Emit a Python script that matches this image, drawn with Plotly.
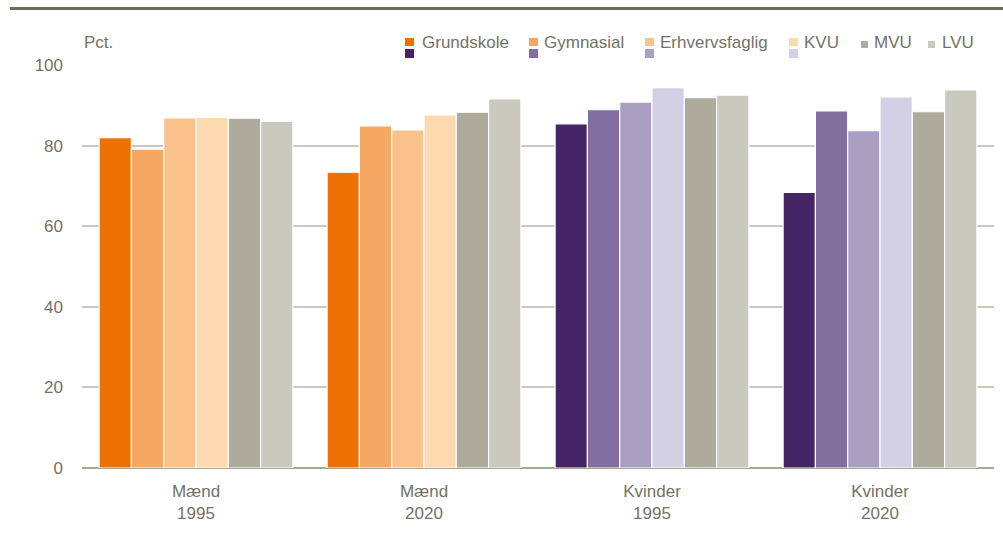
import plotly.graph_objects as go

# data
groups = ["Mænd<br>1995", "Mænd<br>2020", "Kvinder<br>1995", "Kvinder<br>2020"]
educations = ["Grundskole", "Gymnasial", "Erhvervsfaglig", "KVU", "MVU", "LVU"]
grundskole = [82.0, 73.4, 85.4, 68.4]
gymnasial = [79.1, 84.9, 88.9, 88.6]
erhvervsfaglig = [86.9, 83.9, 90.8, 83.7]
kvu = [87.0, 87.6, 94.4, 92.1]
mvu = [86.8, 88.3, 91.9, 88.4]
lvu = [86.0, 91.6, 92.5, 93.8]
values = [grundskole, gymnasial, erhvervsfaglig, kvu, mvu, lvu]

men_colors = ["#EE7203", "#F6A862", "#F9C28B", "#FCD9AE", "#ADAB9C", "#C9C9BE"]
women_colors = ["#452466", "#826F9F", "#AA9FC3", "#D3CFE4", "#ADAB9C", "#C9C9BE"]

TXT = "#727266"
FONT = "Liberation Sans Narrow, Arial Narrow, Liberation Sans, Arial, sans-serif"
FS = 17

# plot area in pixels
W, H = 1003, 533
L, R, T, B = 82, 994, 65, 468


def px(x):
    return (x - L) / (R - L)


def py(y):
    return (B - y) / (B - T)


fig = go.Figure()
for i, name in enumerate(educations):
    fig.add_trace(go.Bar(
        name=name,
        x=groups,
        y=values[i],
        marker=dict(color=[men_colors[i], men_colors[i], women_colors[i], women_colors[i]],
                    line=dict(color="white", width=1.2)),
        showlegend=False,
    ))

shapes = [
    # dark rule at the top
    dict(type="line", xref="paper", yref="paper", x0=px(10), x1=px(1003), y0=py(8.5), y1=py(8.5),
         line=dict(color="#6E6B5A", width=3)),
]
annotations = [
    dict(text="Pct.", xref="paper", yref="paper", x=px(82), y=py(43), xanchor="left", yanchor="middle",
         showarrow=False, font=dict(size=FS, color=TXT, family=FONT)),
]

# hand-drawn legend (two-tone squares for the first four)
leg_x = [405, 529, 645, 789, 861, 928]
txt_x = [420, 542, 658, 802, 872, 940]
for i, name in enumerate(educations):
    x0 = leg_x[i]
    if i < 4:
        shapes.append(dict(type="rect", xref="paper", yref="paper", x0=px(x0), x1=px(x0 + 9),
                           y0=py(46), y1=py(38), fillcolor=men_colors[i], line=dict(width=0)))
        shapes.append(dict(type="rect", xref="paper", yref="paper", x0=px(x0), x1=px(x0 + 9),
                           y0=py(58), y1=py(49), fillcolor=women_colors[i], line=dict(width=0)))
    else:
        shapes.append(dict(type="rect", xref="paper", yref="paper", x0=px(x0), x1=px(x0 + 7),
                           y0=py(48), y1=py(41), fillcolor=men_colors[i], line=dict(width=0)))
    annotations.append(dict(text=name, xref="paper", yref="paper", x=px(txt_x[i]), y=py(43),
                            xanchor="left", yanchor="middle", showarrow=False,
                            font=dict(size=FS, color=TXT, family=FONT)))

fig.update_layout(
    width=W, height=H,
    margin=dict(l=L, r=W - R, t=T, b=H - B),
    paper_bgcolor="white", plot_bgcolor="white",
    barmode="group", bargap=0.15, bargroupgap=0,
    font=dict(family=FONT, size=FS, color=TXT),
    xaxis=dict(showgrid=False, showline=False, ticks="", ticklabelstandoff=11,
               tickfont=dict(size=FS, color=TXT)),
    yaxis=dict(range=[0, 100], tickvals=[0, 20, 40, 60, 80, 100], showgrid=True,
               gridcolor="#CBC9BF", gridwidth=2, zeroline=True, zerolinecolor="#A8A794",
               zerolinewidth=2, showline=False, ticks="", ticklabelstandoff=18,
               tickfont=dict(size=FS, color=TXT)),
    shapes=shapes,
    annotations=annotations,
)

fig.write_html("out.html", config={"displayModeBar": False},
               post_script="document.body.style.margin='0';")
